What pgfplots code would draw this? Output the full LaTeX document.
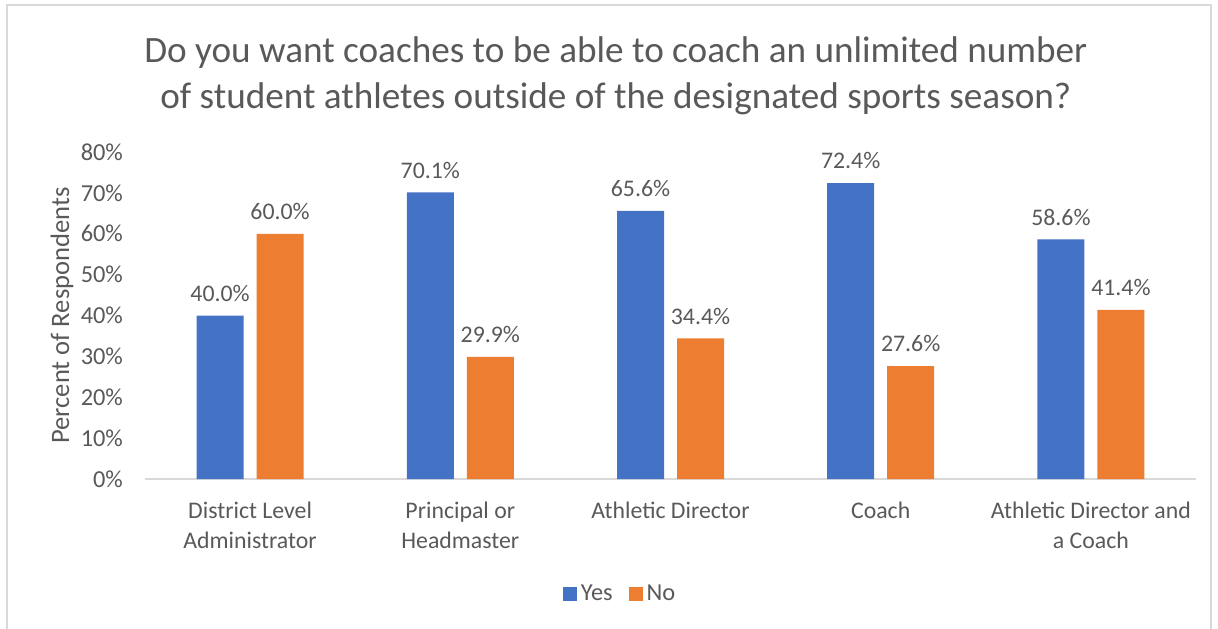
\documentclass[border=0pt]{standalone}
\usepackage{pgfplots}
\pgfplotsset{compat=1.18}
\usepackage{fontspec}
\setmainfont{Carlito}
\definecolor{xlblue}{HTML}{4472C4}
\definecolor{xlorange}{HTML}{ED7D31}
\definecolor{xltext}{HTML}{595959}
\definecolor{xlline}{HTML}{D9D9D9}
\begin{document}
\begin{tikzpicture}
\path[use as bounding box] (-72.5pt,-74.5pt) rectangle (536.5pt,239.5pt);
\draw[xlline, line width=0.8pt] (-69pt,-76pt) -- (-69pt,237pt) -- (533pt,237pt) -- (533pt,-76pt);
\begin{axis}[
    at={(0pt,0pt)}, anchor=south west,
    scale only axis,
    width=525.5pt, height=163.5pt,
    ybar=6.5pt, bar width=23.5pt,
    xmin=-0.5, xmax=4.5, ymin=0, ymax=80,
    enlarge x limits=false,
    axis x line*=bottom, axis y line*=left,
    x axis line style={draw=xlline, line width=1pt},
    y axis line style={draw=none},
    major tick length=0pt,
    xtick={0,1,2,3,4},
    xticklabels={{District Level\\Administrator},{Principal or\\Headmaster},{Athletic Director},{Coach},{Athletic Director and\\a Coach}},
    xticklabel style={align=center, font=\fontsize{11.9}{15}\selectfont, text=xltext, yshift=-8pt},
    ytick={0,10,...,80},
    yticklabels={0\%,10\%,20\%,30\%,40\%,50\%,60\%,70\%,80\%},
    yticklabel style={font=\fontsize{12.2}{14}\selectfont, text=xltext, xshift=-7.5pt},
    ylabel={Percent of Respondents},
    ylabel style={at={(axis description cs:0,0.5)}, anchor=center, yshift=41.5pt, font=\fontsize{13.3}{15}\selectfont, text=xltext},
    title={Do you want coaches to be able to coach an unlimited number\\of student athletes outside of the designated sports season?},
    title style={at={(axis description cs:0.448,1)}, anchor=center, yshift=32pt, align=center, font=\fontsize{18.6}{22.8}\selectfont, text=xltext},
    nodes near coords={\pgfmathprintnumber[fixed,fixed zerofill,precision=1,assume math mode=true]{\pgfplotspointmeta}\%},
    every node near coord/.append style={font=\fontsize{11.9}{14}\selectfont, text=xltext, yshift=3.5pt},
    legend columns=2,
    legend style={at={(axis description cs:0.453,0)}, anchor=center, yshift=-57.5pt, draw=none, font=\fontsize{12.2}{14}\selectfont, text=xltext, /tikz/every even column/.append style={column sep=6pt}},
    legend image code/.code={\fill[#1] (0pt,-3.5pt) rectangle (7pt,3.5pt);},
]
\addplot[fill=xlblue, draw=none] coordinates {(0,40.0) (1,70.1) (2,65.6) (3,72.4) (4,58.6)};
\addplot[fill=xlorange, draw=none] coordinates {(0,60.0) (1,29.9) (2,34.4) (3,27.6) (4,41.4)};
\legend{Yes,No}
\end{axis}
\end{tikzpicture}
\end{document}
